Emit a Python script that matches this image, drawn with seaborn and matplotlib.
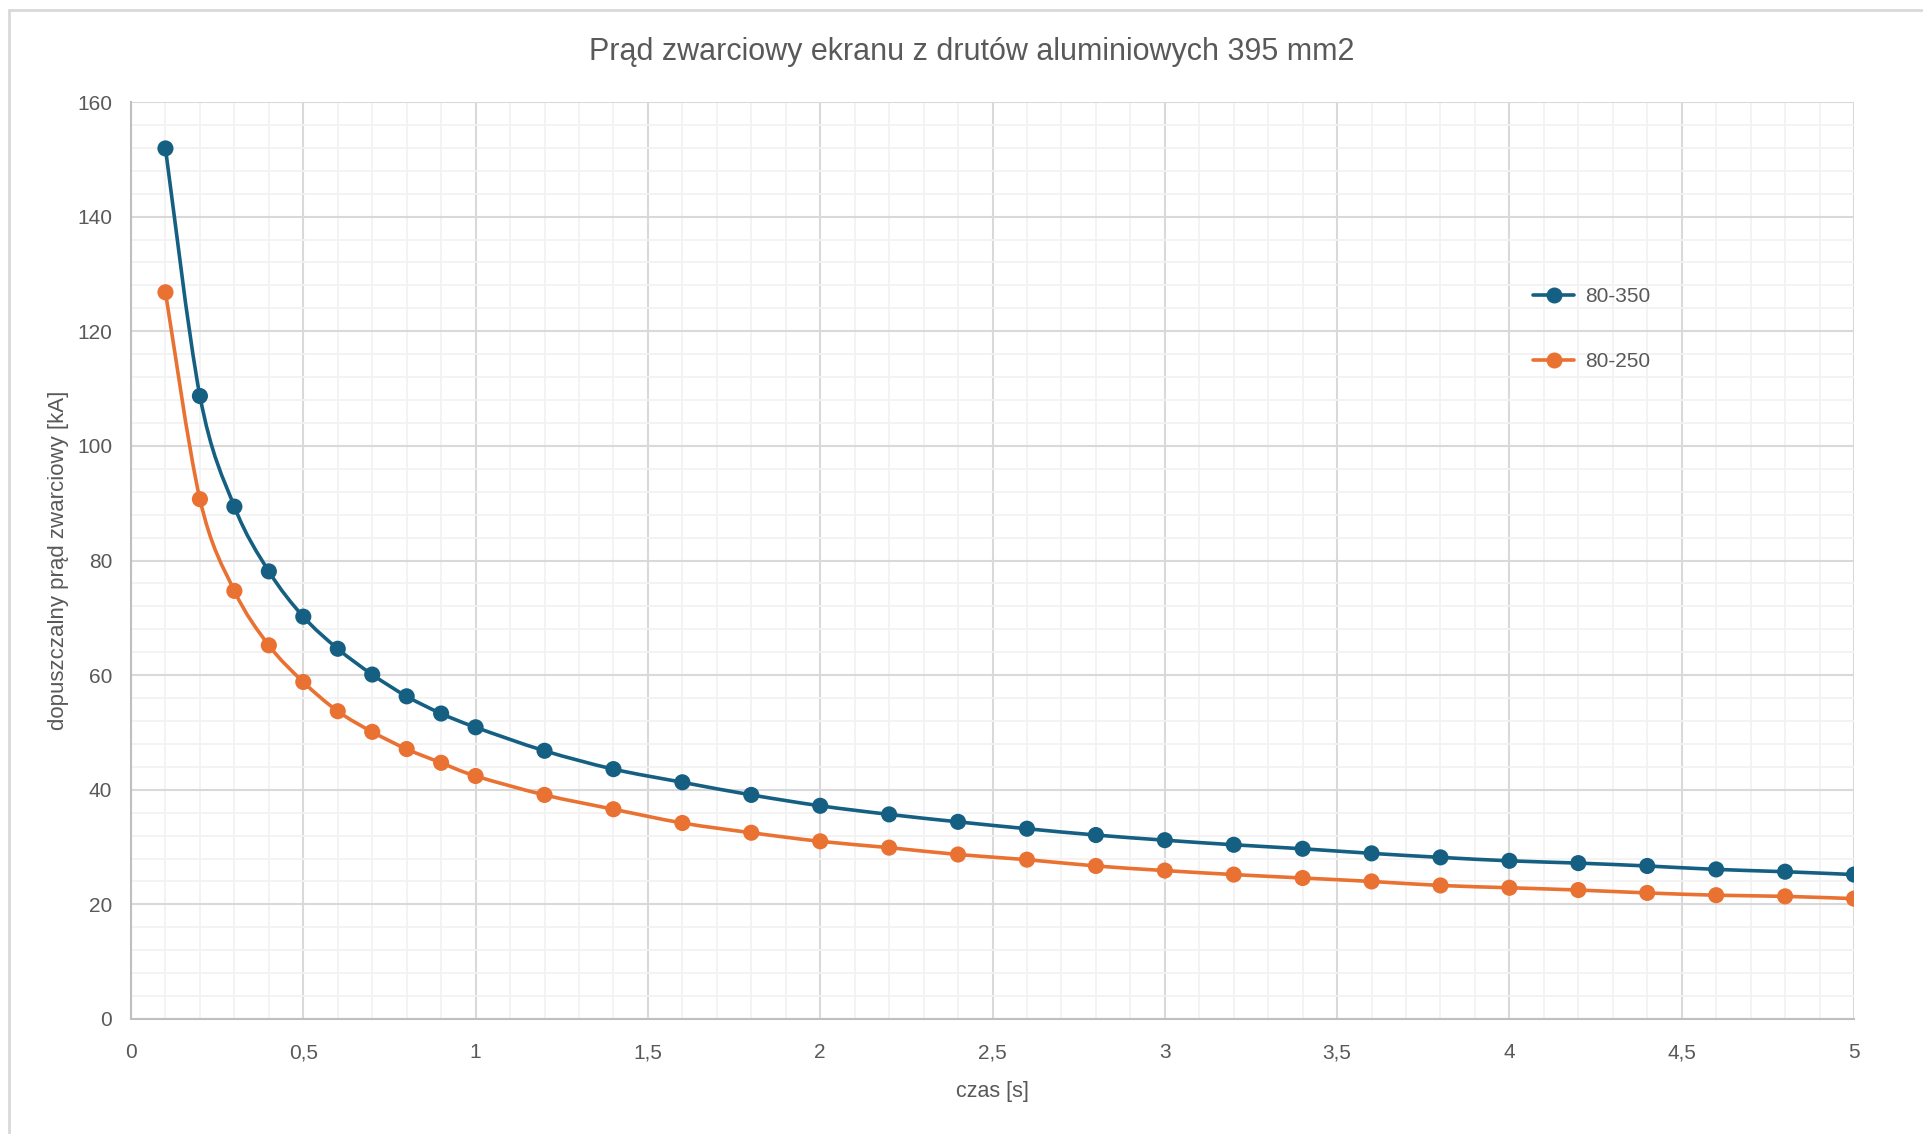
import numpy as np
import pandas as pd
import seaborn as sns
import matplotlib
matplotlib.use("Agg")
import matplotlib.pyplot as plt
from matplotlib.path import Path
from matplotlib.patches import PathPatch
from matplotlib.lines import Line2D
from matplotlib.ticker import MultipleLocator, FuncFormatter

# ---- data ----
czas = [0.1, 0.2, 0.3, 0.4, 0.5, 0.6, 0.7, 0.8, 0.9, 1.0,
        1.2, 1.4, 1.6, 1.8, 2.0, 2.2, 2.4, 2.6, 2.8, 3.0,
        3.2, 3.4, 3.6, 3.8, 4.0, 4.2, 4.4, 4.6, 4.8, 5.0]
s_80_350 = [151.9, 108.7, 89.4, 78.1, 70.2, 64.6, 60.1, 56.3, 53.3, 50.9,
            46.8, 43.6, 41.3, 39.1, 37.2, 35.7, 34.4, 33.2, 32.1, 31.2,
            30.4, 29.7, 28.9, 28.2, 27.6, 27.2, 26.7, 26.1, 25.7, 25.2]
s_80_250 = [126.8, 90.7, 74.7, 65.2, 58.8, 53.7, 50.1, 47.1, 44.7, 42.4,
            39.1, 36.6, 34.2, 32.5, 31.0, 29.9, 28.7, 27.8, 26.7, 25.9,
            25.2, 24.6, 24.0, 23.3, 22.9, 22.5, 22.0, 21.6, 21.4, 21.0]
series_names = ["80-350", "80-250"]
colors = ["#156082", "#E97132"]
title = "Prąd zwarciowy ekranu z drutów aluminiowych 395 mm2"
xlabel = "czas [s]"
ylabel = "dopuszczalny prąd zwarciowy [kA]"

df = pd.DataFrame({"czas": czas * 2,
                   "I": s_80_350 + s_80_250,
                   "seria": [series_names[0]] * len(czas) + [series_names[1]] * len(czas)})

sns.set_theme(style="white")
plt.rcParams['font.family'] = ['Liberation Sans', 'DejaVu Sans']
txt = "#595959"

fig = plt.figure(figsize=(19.23, 11.34), dpi=100)
ax = fig.add_axes([131 / 1923, 1 - 1019 / 1134, (1854 - 131) / 1923, (1019 - 102) / 1134])

ax.set_xlim(0, 5)
ax.set_ylim(0, 160)
ax.xaxis.set_major_locator(MultipleLocator(0.5))
ax.xaxis.set_minor_locator(MultipleLocator(0.1))
ax.yaxis.set_major_locator(MultipleLocator(20))
ax.yaxis.set_minor_locator(MultipleLocator(4))
ax.grid(which="minor", color="#F2F2F2", linewidth=1.3, zorder=0)
ax.grid(which="major", color="#D9D9D9", linewidth=1.5, zorder=0)
ax.set_axisbelow(True)


def smooth_path(xs, ys):
    pts = np.column_stack([xs, ys])
    n = len(pts)
    verts = [pts[0]]
    codes = [Path.MOVETO]
    for i in range(n - 1):
        p0 = pts[i - 1] if i > 0 else pts[i]
        p1 = pts[i]
        p2 = pts[i + 1]
        p3 = pts[i + 2] if i + 2 < n else pts[i + 1]
        c1 = p1 + (p2 - p0) / 6.0
        c2 = p2 - (p3 - p1) / 6.0
        verts += [c1, c2, p2]
        codes += [Path.CURVE4] * 3
    return Path(verts, codes)


for name, col in zip(series_names, colors):
    sub = df[df["seria"] == name]
    patch = PathPatch(smooth_path(sub["czas"].values, sub["I"].values),
                      facecolor="none", edgecolor=col, linewidth=2.6,
                      transform=ax.transData, zorder=3, capstyle="round")
    ax.add_patch(patch)

sns.scatterplot(data=df, x="czas", y="I", hue="seria", palette=colors,
                s=135, edgecolor="none", ax=ax, legend=False, zorder=4)

for sp in ["top", "right"]:
    ax.spines[sp].set_visible(False)
for sp in ["left", "bottom"]:
    ax.spines[sp].set_color("#BFBFBF")
    ax.spines[sp].set_linewidth(1.5)

fmt = FuncFormatter(lambda v, p: ("%g" % v).replace(".", ","))
ax.xaxis.set_major_formatter(fmt)
ax.yaxis.set_major_formatter(fmt)
ax.tick_params(axis="both", which="both", length=0, labelsize=15, colors=txt)
ax.tick_params(axis="x", pad=17.5)
ax.tick_params(axis="y", pad=13.5)

ax.set_xlabel(xlabel, fontsize=15.5, color=txt, labelpad=13.5)
ax.set_ylabel(ylabel, fontsize=16, color=txt, labelpad=5.5)

fig.text(0.5055, 1 - 52 / 1134, title, ha="center", va="center",
         fontsize=22, color=txt)

handles = [Line2D([], [], color=c, linewidth=2.6, marker="o", markersize=10.5) for c in colors]
fig.legend(handles, series_names, loc="center left",
           bbox_to_anchor=(1514 / 1923, 1 - 329 / 1134), frameon=False,
           fontsize=15, labelcolor=txt, handlelength=2.0, handletextpad=0.5,
           labelspacing=2.2)

# chart area border
fig.add_artist(Line2D([9 / 1923, 9 / 1923], [0, 1 - 10 / 1134], transform=fig.transFigure,
                      color="#D9D9D9", linewidth=2))
fig.add_artist(Line2D([9 / 1923, 1], [1 - 10 / 1134, 1 - 10 / 1134], transform=fig.transFigure,
                      color="#D9D9D9", linewidth=2))

fig.savefig("out.png", dpi=100)
